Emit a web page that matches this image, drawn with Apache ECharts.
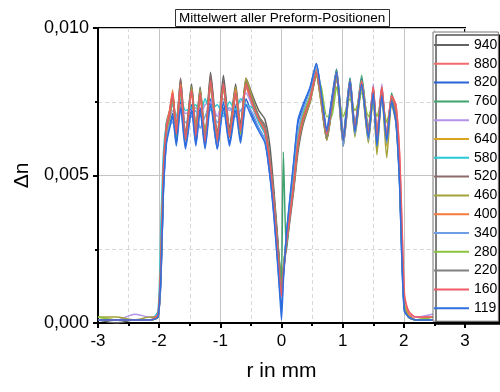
<!DOCTYPE html>
<html>
<head>
<meta charset="utf-8">
<script src="https://cdn.jsdelivr.net/npm/echarts@6/dist/echarts.min.js"></script>
<style>html,body{margin:0;padding:0;background:#fff}#c{width:500px;height:392px}</style>
</head>
<body>
<div id="c"></div>
<script>
// r positions (mm), shared by all series
var R = [-3,-2.7,-2.4,-2.15,-2.02, -1.97,-1.93,-1.88,-1.83,
  -1.78,-1.72,-1.65,-1.57,-1.47,-1.4,-1.33,-1.25,-1.16,-1.05,-0.95,-0.85,-0.75,-0.67,-0.58,
  -0.47,-0.37,-0.27,-0.19,-0.12,-0.06,-0.02, 0,0.03,0.08,0.14,0.2, 0.27,0.35,0.47,
  0.57,0.65,0.74,0.82,0.9,1.01,1.12,1.2,1.31,1.42,1.5,1.56,1.64,1.72,1.8,
  1.87,1.93,1.97,2.01, 2.08,2.2,2.5,2.8,3];
// Δn values in units of 1e-4
var UNIT = 1e-4;
var names = ['940','880','820','760','700','640','580','520','460','400','340','280','220','160','119'];
var colors = ['#636363','#f26b6b','#2a63d6','#3fa36f','#b393e8','#d9a520','#29c8d6','#8c6b6b','#a3a33a','#f57a3d','#6e9fe6','#8ac43f','#808080','#f05a64','#2f6fe0'];
var s940 = [1,0,1,1,2, 15,48,68,72, 78,66,83,64,81,66,80,63,85,64,84,66,81,67,83, 77,72,69,60,44,28,16, 12,17,26,35,45, 58,67,75, 84,75,62,72,83,60,80,64,80,62,78,61,77,63,75, 72,52,26,5, 2,1,1,1,0];
var s880 = [1,1,1,1,3, 22,52,64,71, 75,65,79,63,78,63,77,61,80,61,80,63,77,64,80, 73,68,64,53,38,22,12, 9,16,27,37,47, 61,69,76, 85,77,65,75,84,63,81,67,81,65,80,63,80,64,77, 74,58,34,10, 3,2,2,1,1];
var s820 = [1,1,1,1,2, 16,45,62,67, 71,61,75,60,74,61,73,60,76,59,75,61,74,62,76, 70,66,62,50,36,20,9, 5,16,30,42,54, 68,73,80, 88,78,66,76,86,64,83,67,83,65,79,62,78,63,76, 69,48,20,4, 2,1,1,1,1];
var s760 = [1,1,1,1,2, 24,54,67,70, 77,63,80,62,80,65,79,62,81,62,80,63,78,64,82, 75,69,65,54,41,27,18, 14,58,24,37,47, 61,70,77, 87,77,64,74,86,63,83,66,84,66,80,62,80,62,78, 71,50,23,5, 2,1,2,1,1];
var s700 = [1,1,3,2,2, 18,48,65,69, 72,70,74,71,72,73,70,74,75,70,76,72,74,75,78, 73,68,64,53,39,24,13, 9,18,28,38,48, 62,70,77, 85,76,63,73,84,62,81,66,82,64,81,64,81,63,77, 70,50,25,6, 3,2,3,1,1];
var s640 = [2,1,1,1,2, 20,50,66,70, 77,65,81,62,79,64,79,62,82,62,81,64,79,64,82, 75,70,66,55,41,26,15, 11,19,28,38,47, 61,69,76, 85,75,63,73,84,61,82,65,81,62,78,58,79,60,75, 69,50,24,6, 2,1,2,1,1];
var s580 = [1,1,1,1,4, 35,58,68,71, 74,70,76,72,73,74,70,76,72,74,70,75,72,76,74, 73,68,64,53,39,24,13, 10,18,29,39,49, 63,71,77, 86,76,64,74,85,63,82,66,82,64,79,62,79,63,76, 70,49,23,5, 2,1,1,1,1];
var s520 = [1,1,1,1,2, 19,49,67,71, 77,65,83,63,80,64,79,62,84,63,82,65,80,66,82, 75,70,67,56,42,27,16, 12,18,27,37,46, 60,68,76, 84,75,62,72,84,61,81,65,81,63,78,61,78,62,76, 71,51,25,5, 2,1,1,1,1];
var s460 = [2,2,1,2,2, 21,51,66,70, 78,65,80,62,80,64,79,63,82,62,81,64,80,64,83, 76,70,66,55,41,26,15, 11,19,27,37,46, 60,68,75, 84,74,62,72,83,60,80,63,80,61,77,57,78,56,74, 68,49,23,5, 2,1,1,1,1];
var s400 = [1,1,1,1,2, 21,52,67,72, 79,65,81,63,79,65,78,62,81,63,80,64,79,65,81, 74,69,65,54,40,24,13, 10,17,27,38,48, 62,70,77, 86,76,64,74,85,62,82,66,82,64,80,63,80,62,77, 71,52,26,6, 3,1,1,1,1];
var s340 = [1,1,1,1,2, 17,46,62,67, 68,70,72,68,70,72,66,70,74,68,71,73,70,72,74, 71,66,62,51,37,22,11, 8,17,29,40,51, 65,72,79, 87,77,64,73,85,60,81,64,81,62,78,60,78,61,75, 69,48,22,5, 2,1,1,1,1];
var s280 = [2,1,1,1,2, 20,50,65,69, 76,64,79,62,79,64,78,63,81,62,80,63,78,64,81, 74,69,65,54,40,25,14, 10,18,28,38,48, 62,70,77, 84,80,70,70,80,70,76,72,78,70,74,70,76,68,74, 71,51,24,6, 2,1,2,1,1];
var s220 = [1,1,1,1,2, 19,49,66,70, 77,64,80,63,79,64,78,62,82,62,81,64,78,65,81, 75,70,66,55,41,26,15, 11,18,27,37,47, 61,69,76, 85,76,63,73,84,62,81,65,81,63,79,62,79,62,76, 70,50,24,5, 2,1,1,1,1];
var s160 = [1,1,1,1,3, 23,53,66,71, 78,64,80,62,79,63,78,61,82,62,81,63,78,65,81, 74,69,65,54,39,23,12, 9,17,27,37,47, 61,69,76, 85,77,64,74,85,62,82,66,82,64,80,63,80,63,77, 74,57,32,9, 4,2,2,1,1];
var s119 = [1,1,1,1,2, 17,45,61,66, 70,60,73,59,72,60,72,59,74,59,73,60,72,61,74, 69,65,61,50,35,19,7, 1,14,30,43,55, 69,74,80, 88,78,65,75,85,62,82,65,81,63,78,60,77,62,75, 68,47,20,4, 2,1,1,1,1];
var values = [s940,s880,s820,s760,s700,s640,s580,s520,s460,s400,s340,s280,s220,s160,s119];
var xTicks = [-3,-2,-1,0,1,2,3];

var FONT = 'Arial, "Liberation Sans", sans-serif';
var series = names.map(function(n,i){
  return {
    name: n, type: 'line', symbol: 'none', showSymbol: false, smooth: 0.2,
    color: colors[i],
    lineStyle: {width: 1.5, color: colors[i]},
    data: R.map(function(r,k){ return [r, values[i][k]*UNIT]; })
  };
});

var chart = echarts.init(document.getElementById('c'), null, {renderer:'canvas'});
chart.setOption({
  animation: false,
  backgroundColor: '#fff',
  title: {
    text: 'Mittelwert aller Preform-Positionen',
    left: 175, top: 9,
    padding: [2,4,2,4],
    borderColor: '#333', borderWidth: 1, backgroundColor: '#fff',
    textStyle: {fontFamily: FONT, fontSize: 13.5, fontWeight: 'normal', color: '#000'}
  },
  legend: {
    orient: 'vertical', left: 433, top: 32,
    padding: [5,1,5,1],
    icon: 'rect',
    itemWidth: 35, itemHeight: 2, itemGap: 2.8, itemTextGap: 3,
    backgroundColor: '#fff', borderColor: '#777', borderWidth: 1,
    shadowColor: '#000', shadowBlur: 0, shadowOffsetX: 3, shadowOffsetY: 3,
    textStyle: {fontFamily: FONT, fontSize: 14, color: '#000', lineHeight: 16},
    data: names
  },
  grid: {left: 98, right: 35, top: 28, bottom: 69, show: true, borderColor: '#000', borderWidth: 2, containLabel: false},
  xAxis: {
    type: 'value', min: -3, max: 3, interval: 1,
    name: 'r in mm', nameLocation: 'middle', nameGap: 38,
    nameTextStyle: {fontFamily: FONT, fontSize: 21, color: '#000'},
    axisLine: {show: true, onZero: false, lineStyle: {color: '#000', width: 2}},
    axisTick: {show: true, inside: false, length: 5, lineStyle: {color: '#000', width: 2}},
    minorTick: {show: true, splitNumber: 2, length: 3, lineStyle: {color: '#000', width: 2}},
    axisLabel: {fontFamily: FONT, fontSize: 17, color: '#000', margin: 10,
      formatter: function(v){ return xTicks.indexOf(v) >= 0 ? String(v) : ''; }},
    splitLine: {show: true, lineStyle: {color: '#c4c4c4', width: 1}},
    minorSplitLine: {show: true, lineStyle: {color: '#d8d8d8', width: 1, type: [4,3]}}
  },
  yAxis: {
    type: 'value', min: 0, max: 0.01, interval: 0.005,
    name: 'Δn', nameLocation: 'middle', nameGap: 64,
    nameTextStyle: {fontFamily: FONT, fontSize: 21, color: '#000'},
    axisLine: {show: true, onZero: false, lineStyle: {color: '#000', width: 2}},
    axisTick: {show: true, inside: false, length: 5, lineStyle: {color: '#000', width: 2}},
    minorTick: {show: true, splitNumber: 2, length: 3, lineStyle: {color: '#000', width: 2}},
    axisLabel: {fontFamily: FONT, fontSize: 18, color: '#000', margin: 9,
      formatter: function(v){ return v.toFixed(3).replace('.', ','); }},
    splitLine: {show: true, lineStyle: {color: '#c4c4c4', width: 1}},
    minorSplitLine: {show: true, lineStyle: {color: '#d8d8d8', width: 1, type: [4,3]}}
  },
  series: series
});
</script>
</body>
</html>
